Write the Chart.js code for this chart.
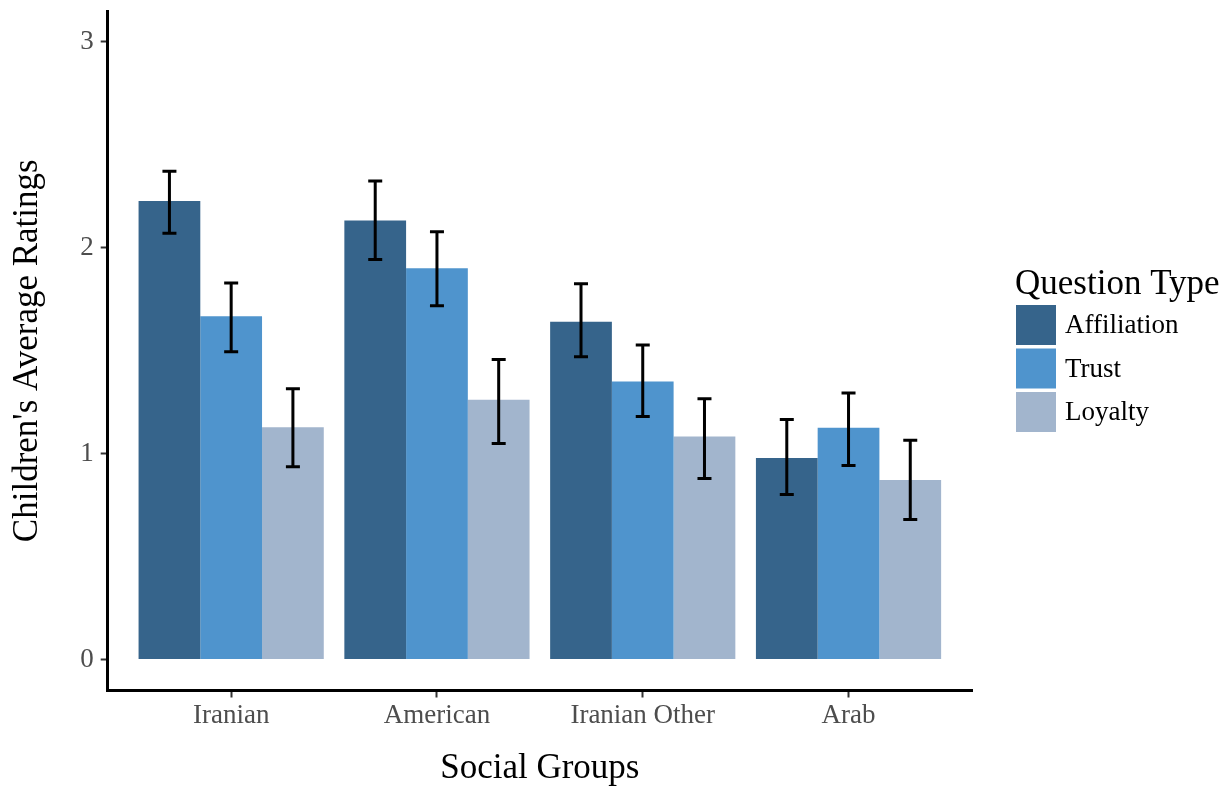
<!DOCTYPE html>
<html>
<head>
<meta charset="utf-8">
<script src="https://cdn.jsdelivr.net/npm/chart.js@4.4.1/dist/chart.umd.min.js"></script>
<style>
  html, body { margin: 0; padding: 0; background: #fff; }
  #wrap { width: 1232px; height: 790px; }
</style>
</head>
<body>
<div id="wrap"><canvas id="c" width="1232" height="790"></canvas></div>
<script>
// Categories and series
const groups = ['Iranian', 'American', 'Iranian Other', 'Arab'];
const questionTypes = ['Affiliation', 'Trust', 'Loyalty'];

// Mean ratings per group
const affiliation = [2.227, 2.133, 1.641, 0.979];
const trust       = [1.668, 1.901, 1.351, 1.126];
const loyalty     = [1.128, 1.262, 1.084, 0.872];

// Error bar bounds (lower / upper)
const affiliationLow  = [2.071, 1.943, 1.471, 0.802];
const affiliationHigh = [2.372, 2.325, 1.825, 1.166];
const trustLow        = [1.495, 1.718, 1.181, 0.943];
const trustHigh       = [1.829, 2.078, 1.528, 1.295];
const loyaltyLow      = [0.937, 1.049, 0.880, 0.680];
const loyaltyHigh     = [1.316, 1.458, 1.267, 1.065];

// Axis ticks
const yTickValues = [0, 1, 2, 3];

const seriesColors = ['#36648B', '#4F94CD', '#A2B5CD'];
const serif = "'Liberation Serif', 'Times New Roman', serif";

// Error bars with caps, drawn on top of each bar
const errorBarPlugin = {
  id: 'errorBars',
  afterDatasetsDraw(chart) {
    const ctx = chart.ctx;
    const yScale = chart.scales.y;
    ctx.save();
    ctx.strokeStyle = '#000';
    ctx.lineWidth = 3;
    ctx.lineCap = 'butt';
    chart.data.datasets.forEach((ds, i) => {
      const meta = chart.getDatasetMeta(i);
      meta.data.forEach((bar, j) => {
        const yl = yScale.getPixelForValue(ds.errorLow[j]);
        const yh = yScale.getPixelForValue(ds.errorHigh[j]);
        const half = 7;
        ctx.beginPath();
        ctx.moveTo(bar.x, yl); ctx.lineTo(bar.x, yh);
        ctx.moveTo(bar.x - half, yl); ctx.lineTo(bar.x + half, yl);
        ctx.moveTo(bar.x - half, yh); ctx.lineTo(bar.x + half, yh);
        ctx.stroke();
      });
    });
    ctx.restore();
  }
};

// Legend on the right with title and square keys
const legendPlugin = {
  id: 'questionLegend',
  afterDraw(chart) {
    const ctx = chart.ctx;
    ctx.save();
    ctx.textAlign = 'left';
    ctx.fillStyle = '#000';
    ctx.font = '35px ' + serif;
    ctx.textBaseline = 'alphabetic';
    ctx.fillText('Question Type', 1015, 294);
    chart.data.datasets.forEach((ds, i) => {
      const top = 305 + i * 43.5;
      ctx.fillStyle = ds.backgroundColor;
      ctx.fillRect(1016, top, 40, 40);
      ctx.fillStyle = '#000';
      ctx.font = '27px ' + serif;
      ctx.textBaseline = 'middle';
      ctx.fillText(ds.label, 1065, top + 21);
    });
    ctx.restore();
  }
};

const seriesValues = [affiliation, trust, loyalty];
const seriesLow = [affiliationLow, trustLow, loyaltyLow];
const seriesHigh = [affiliationHigh, trustHigh, loyaltyHigh];

new Chart(document.getElementById('c'), {
  type: 'bar',
  data: {
    labels: groups,
    datasets: questionTypes.map((name, i) => ({
      label: name,
      data: seriesValues[i],
      errorLow: seriesLow[i],
      errorHigh: seriesHigh[i],
      backgroundColor: seriesColors[i],
      borderWidth: 0,
      categoryPercentage: 0.9,
      barPercentage: 1.0
    }))
  },
  options: {
    responsive: false,
    animation: false,
    devicePixelRatio: 1,
    layout: { padding: { left: 0, right: 260, top: 11, bottom: 0 } },
    plugins: {
      legend: { display: false },
      tooltip: { enabled: false },
      title: { display: false }
    },
    scales: {
      x: {
        type: 'category',
        offset: false,
        border: { display: true, color: '#000', width: 3 },
        grid: { display: true, drawOnChartArea: false, drawTicks: true, tickLength: 7, tickWidth: 2, color: '#333', offset: false },
        ticks: { font: { family: serif, size: 27 }, color: '#4D4D4D', padding: 2, maxRotation: 0, autoSkip: false },
        title: { display: true, text: 'Social Groups', font: { family: serif, size: 35 }, color: '#000', padding: { top: 0, bottom: 0 } },
        // discrete axis expanded by 0.6 of a category on each side
        afterBuildTicks(s) { s._startValue = -0.6; s._valueRange = groups.length - 1 + 1.2; },
        afterFit(s) { s.height = 99.5; s.paddingLeft = 0; s.paddingRight = 0; }
      },
      y: {
        min: -0.15,
        max: 3.15,
        border: { display: true, color: '#000', width: 3 },
        grid: { display: true, drawOnChartArea: false, drawTicks: true, tickLength: 7, tickWidth: 2, color: '#333' },
        ticks: { font: { family: serif, size: 27 }, color: '#4D4D4D', padding: 7 },
        afterBuildTicks(s) { s.ticks = yTickValues.map(v => ({ value: v })); },
        title: { display: true, text: "Children's Average Ratings", font: { family: serif, size: 35 }, color: '#000', padding: { top: 7, bottom: 0 } },
        afterFit(s) { s.width = 107.7; s.paddingTop = 0; s.paddingBottom = 0; }
      }
    }
  },
  plugins: [errorBarPlugin, legendPlugin]
});
</script>
</body>
</html>
